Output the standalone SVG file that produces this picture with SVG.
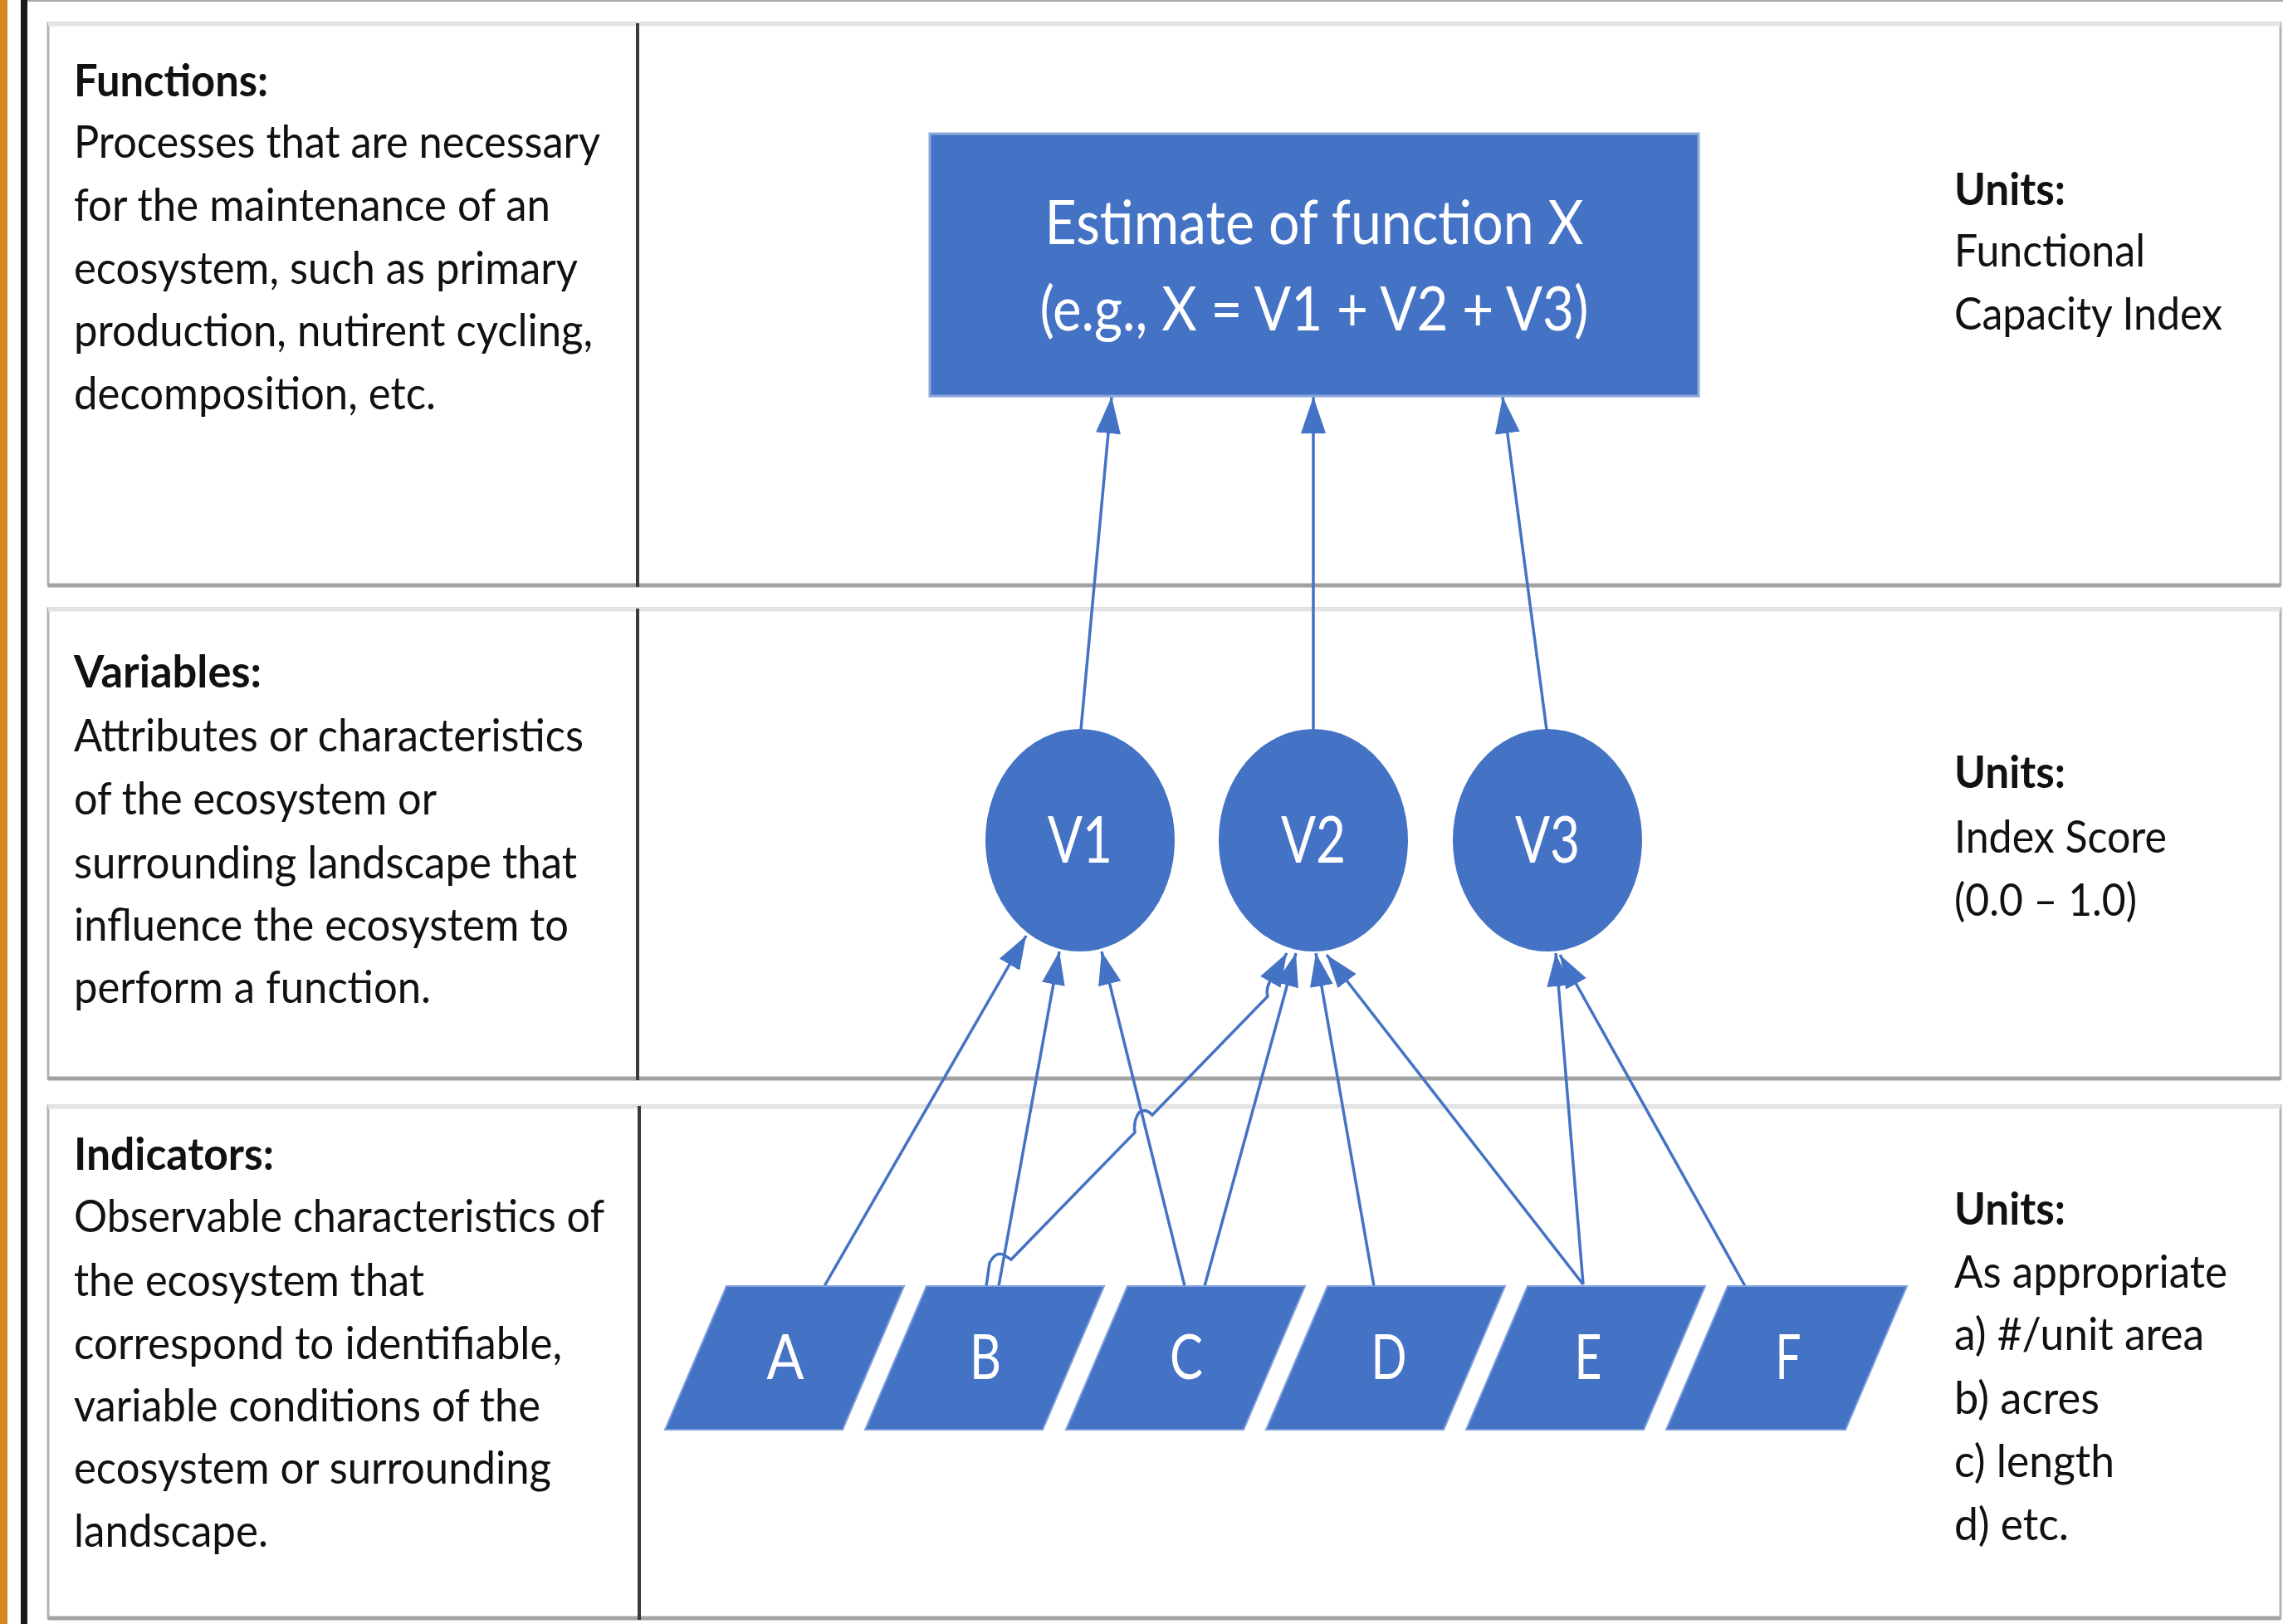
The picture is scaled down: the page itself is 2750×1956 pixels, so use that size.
<svg xmlns="http://www.w3.org/2000/svg" width="2750" height="1956" viewBox="0 0 2750 1956">
<defs>
<style>
.pn{fill:#ffffff;stroke:#b4b4b4;stroke-width:3}
.ptop{stroke:#e4e4e4;stroke-width:5}
.pbot{stroke:#a2a2a2;stroke-width:5}
.div{stroke:#3a3a3a;stroke-width:4}
.h{font-family:Lato,"Liberation Sans",sans-serif;font-weight:700;font-size:54px;fill:#111111}
.t{font-family:Lato,"Liberation Sans",sans-serif;font-size:54px;fill:#111111}
.w{font-family:Lato,"Liberation Sans",sans-serif;fill:#ffffff;text-anchor:middle}
.blue{fill:#4472C4}
.para{fill:#4472C4;stroke:#7f9fda;stroke-width:2}
.cn{fill:none;stroke:#4472C4;stroke-width:3.5;marker-end:url(#ah)}
.cb{fill:none;stroke:#4472C4;stroke-width:3.5;marker-end:url(#ahb)}
</style>
<marker id="ah" markerUnits="userSpaceOnUse" markerWidth="42" markerHeight="30" refX="40" refY="14" orient="auto">
<path d="M0,0 L40,14 L0,28 z" fill="#4472C4"/>
</marker>
<marker id="ahb" markerUnits="userSpaceOnUse" markerWidth="46" markerHeight="32" refX="44" refY="15" orient="auto">
<path d="M0,0 L44,15 L0,30 z" fill="#4472C4"/>
</marker>
</defs>

<rect x="0" y="0" width="2750" height="1956" fill="#ffffff"/>
<rect x="0" y="0" width="9" height="1956" fill="#d6851f"/>
<rect x="25" y="0" width="8" height="1956" fill="#1a1a1a"/>
<line x1="33" y1="1" x2="2750" y2="1" stroke="#a8a8a8" stroke-width="2"/>

<g id="panel-functions">
<rect class="pn" x="58" y="28" width="2689" height="677"/>
<line class="ptop" x1="58" y1="29" x2="2747" y2="29"/>
<line class="pbot" x1="58" y1="705" x2="2747" y2="705"/>
<line class="div" x1="768" y1="28" x2="768" y2="707"/>
<text class="h" x="89" y="116" textLength="234" lengthAdjust="spacingAndGlyphs">Functions:</text>
<text class="t" x="89" y="190" textLength="634" lengthAdjust="spacingAndGlyphs">Processes that are necessary</text>
<text class="t" x="89" y="266" textLength="574" lengthAdjust="spacingAndGlyphs">for the maintenance of an</text>
<text class="t" x="89" y="342" textLength="607" lengthAdjust="spacingAndGlyphs">ecosystem, such as primary</text>
<text class="t" x="89" y="417" textLength="625" lengthAdjust="spacingAndGlyphs">production, nutirent cycling,</text>
<text class="t" x="89" y="493" textLength="436" lengthAdjust="spacingAndGlyphs">decomposition, etc.</text>
<text class="h" x="2354" y="247" textLength="134" lengthAdjust="spacingAndGlyphs">Units:</text>
<text class="t" x="2354" y="321" textLength="230" lengthAdjust="spacingAndGlyphs">Functional</text>
<text class="t" x="2354" y="397" textLength="323" lengthAdjust="spacingAndGlyphs">Capacity Index</text>
</g>

<g id="panel-variables">
<rect class="pn" x="58" y="733" width="2689" height="566"/>
<line class="ptop" x1="58" y1="734" x2="2747" y2="734"/>
<line class="pbot" x1="58" y1="1299" x2="2747" y2="1299"/>
<line class="div" x1="768" y1="733" x2="768" y2="1301"/>
<text class="h" x="89" y="828" textLength="226" lengthAdjust="spacingAndGlyphs">Variables:</text>
<text class="t" x="89" y="905" textLength="614" lengthAdjust="spacingAndGlyphs">Attributes or characteristics</text>
<text class="t" x="89" y="981" textLength="437" lengthAdjust="spacingAndGlyphs">of the ecosystem or</text>
<text class="t" x="89" y="1058" textLength="606" lengthAdjust="spacingAndGlyphs">surrounding landscape that</text>
<text class="t" x="89" y="1133" textLength="596" lengthAdjust="spacingAndGlyphs">influence the ecosystem to</text>
<text class="t" x="89" y="1208" textLength="430" lengthAdjust="spacingAndGlyphs">perform a function.</text>
<text class="h" x="2354" y="949" textLength="134" lengthAdjust="spacingAndGlyphs">Units:</text>
<text class="t" x="2354" y="1027" textLength="256" lengthAdjust="spacingAndGlyphs">Index Score</text>
<text class="t" x="2354" y="1103" textLength="220" lengthAdjust="spacingAndGlyphs">(0.0 – 1.0)</text>
</g>

<g id="panel-indicators">
<rect class="pn" x="58" y="1332" width="2689" height="617"/>
<line class="ptop" x1="58" y1="1333" x2="2747" y2="1333"/>
<line class="pbot" x1="58" y1="1949" x2="2747" y2="1949"/>
<line class="div" x1="770" y1="1332" x2="770" y2="1951"/>
<text class="h" x="89" y="1409" textLength="241" lengthAdjust="spacingAndGlyphs">Indicators:</text>
<text class="t" x="89" y="1484" textLength="639" lengthAdjust="spacingAndGlyphs">Observable characteristics of</text>
<text class="t" x="89" y="1561" textLength="422" lengthAdjust="spacingAndGlyphs">the ecosystem that</text>
<text class="t" x="89" y="1637" textLength="588" lengthAdjust="spacingAndGlyphs">correspond to identifiable,</text>
<text class="t" x="89" y="1712" textLength="562" lengthAdjust="spacingAndGlyphs">variable conditions of the</text>
<text class="t" x="89" y="1787" textLength="575" lengthAdjust="spacingAndGlyphs">ecosystem or surrounding</text>
<text class="t" x="89" y="1863" textLength="234" lengthAdjust="spacingAndGlyphs">landscape.</text>
<text class="h" x="2354" y="1475" textLength="134" lengthAdjust="spacingAndGlyphs">Units:</text>
<text class="t" x="2354" y="1551" textLength="329" lengthAdjust="spacingAndGlyphs">As appropriate</text>
<text class="t" x="2354" y="1626" textLength="301" lengthAdjust="spacingAndGlyphs">a) #/unit area</text>
<text class="t" x="2354" y="1703" textLength="175" lengthAdjust="spacingAndGlyphs">b) acres</text>
<text class="t" x="2354" y="1779" textLength="193" lengthAdjust="spacingAndGlyphs">c) length</text>
<text class="t" x="2354" y="1855" textLength="138" lengthAdjust="spacingAndGlyphs">d) etc.</text>
</g>

<g id="connectors">
<path class="cb" d="M1302,879 L1339,478"/>
<path class="cb" d="M1582,879 L1582,478"/>
<path class="cb" d="M1863,879 L1810,478"/>
<path class="cn" d="M993,1549 L1236,1127"/>
<path class="cn" d="M1203,1549 L1276,1146"/>
<path class="cn" d="M1427,1549 L1327,1146"/>
<path class="cn" d="M1188,1549 L1192,1521 Q1200,1506 1210,1512 L1218,1517 L1367,1364 Q1365,1350 1372,1340 Q1380,1334 1388,1343 L1527,1200 Q1524,1188 1533,1178 L1550,1148"/>
<path class="cn" d="M1451,1549 L1561,1148"/>
<path class="cn" d="M1655,1549 L1585,1148"/>
<path class="cn" d="M1907,1547 L1598,1150"/>
<path class="cn" d="M1907,1547 L1874,1148"/>
<path class="cn" d="M2102,1549 L1879,1150"/>
</g>

<g id="node-estimate">
<rect x="1120" y="161" width="926" height="316" fill="#4472C4" stroke="#8eaadb" stroke-width="3"/>
<text class="w" x="1583" y="294" font-size="74" textLength="649" lengthAdjust="spacingAndGlyphs">Estimate of function X</text>
<text class="w" x="1583" y="398" font-size="74" textLength="661" lengthAdjust="spacingAndGlyphs">(e.g., X = V1 + V2 + V3)</text>
</g>

<g id="node-v1">
<ellipse class="blue" cx="1301" cy="1012" rx="114" ry="134"/>
<text class="w" x="1301" y="1039" font-size="77" textLength="78" lengthAdjust="spacingAndGlyphs">V1</text>
</g>
<g id="node-v2">
<ellipse class="blue" cx="1582" cy="1012" rx="114" ry="134"/>
<text class="w" x="1582" y="1039" font-size="77" textLength="78" lengthAdjust="spacingAndGlyphs">V2</text>
</g>
<g id="node-v3">
<ellipse class="blue" cx="1864" cy="1012" rx="114" ry="134"/>
<text class="w" x="1864" y="1039" font-size="77" textLength="78" lengthAdjust="spacingAndGlyphs">V3</text>
</g>

<g id="node-a">
<polygon class="para" points="875,1549 1089,1549 1015,1722 801,1722"/>
<text class="w" x="946" y="1661" font-size="76" textLength="45" lengthAdjust="spacingAndGlyphs">A</text>
</g>
<g id="node-b">
<polygon class="para" points="1116,1549 1330,1549 1256,1722 1042,1722"/>
<text class="w" x="1187" y="1661" font-size="76" textLength="38" lengthAdjust="spacingAndGlyphs">B</text>
</g>
<g id="node-c">
<polygon class="para" points="1358,1549 1572,1549 1498,1722 1284,1722"/>
<text class="w" x="1429" y="1661" font-size="76" textLength="40" lengthAdjust="spacingAndGlyphs">C</text>
</g>
<g id="node-d">
<polygon class="para" points="1599,1549 1813,1549 1739,1722 1525,1722"/>
<text class="w" x="1673" y="1661" font-size="76" textLength="43" lengthAdjust="spacingAndGlyphs">D</text>
</g>
<g id="node-e">
<polygon class="para" points="1840,1549 2054,1549 1980,1722 1766,1722"/>
<text class="w" x="1913" y="1661" font-size="76" textLength="33" lengthAdjust="spacingAndGlyphs">E</text>
</g>
<g id="node-f">
<polygon class="para" points="2081,1549 2297,1549 2223,1722 2007,1722"/>
<text class="w" x="2154" y="1661" font-size="76" textLength="31" lengthAdjust="spacingAndGlyphs">F</text>
</g>
</svg>
